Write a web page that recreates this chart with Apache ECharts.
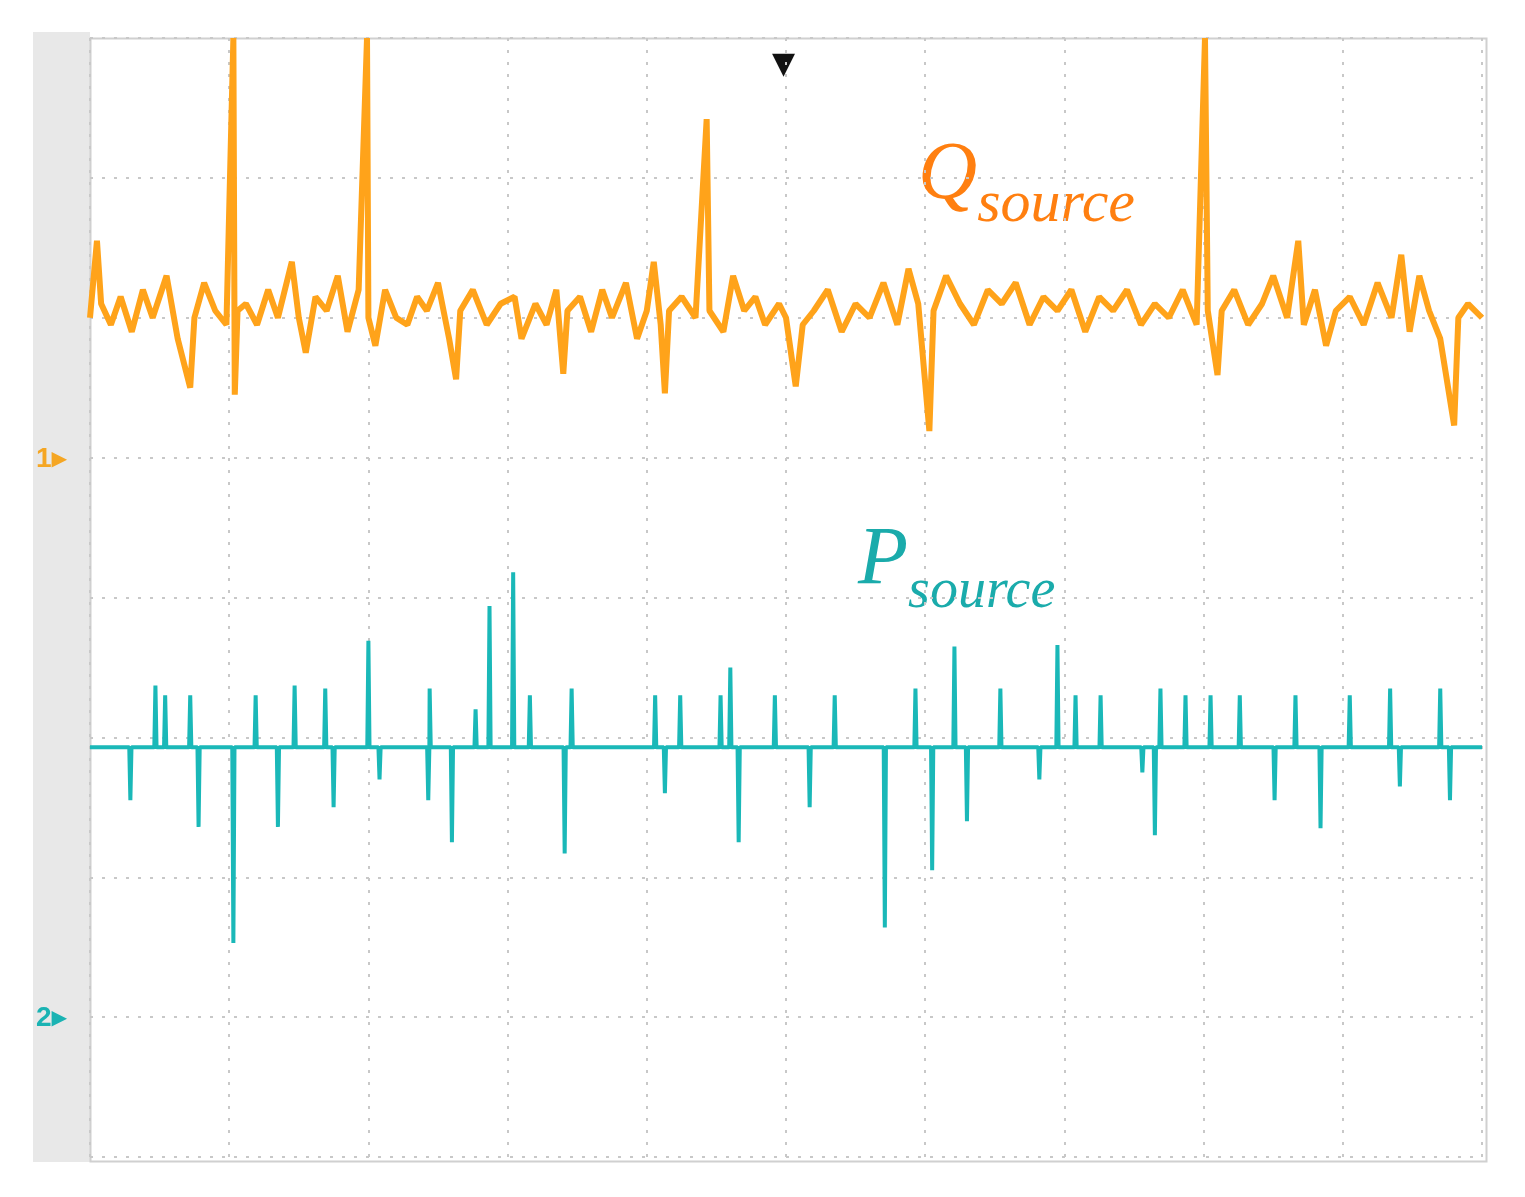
<!DOCTYPE html>
<html><head><meta charset="utf-8">
<script src="https://cdn.jsdelivr.net/npm/echarts@6/dist/echarts.min.js"></script>
<style>html,body{margin:0;padding:0;background:#fff}#c{width:1525px;height:1197px}</style>
</head><body><div id="c"></div>
<script>
// Q trace (x in divisions, y in divisions)
var qData = [[0,6.0],[0.05,6.55],[0.08,6.1],[0.15,5.95],[0.22,6.15],[0.3,5.9],[0.38,6.2],[0.45,6.0],[0.55,6.3],[0.63,5.85],[0.72,5.5],[0.75,6.0],[0.82,6.25],[0.9,6.05],[0.98,5.95],[1.03,8.0],[1.04,5.45],[1.06,6.05],[1.12,6.1],[1.2,5.95],[1.28,6.2],[1.35,6.0],[1.45,6.4],[1.5,6.0],[1.55,5.75],[1.62,6.15],[1.7,6.05],[1.78,6.3],[1.85,5.9],[1.93,6.2],[1.99,8.0],[2.0,6.0],[2.05,5.8],[2.12,6.2],[2.2,6.0],[2.28,5.95],[2.35,6.15],[2.42,6.05],[2.5,6.25],[2.58,5.85],[2.63,5.56],[2.66,6.05],[2.75,6.2],[2.85,5.95],[2.95,6.1],[3.05,6.15],[3.1,5.85],[3.2,6.1],[3.28,5.95],[3.35,6.2],[3.4,5.6],[3.43,6.05],[3.52,6.15],[3.6,5.9],[3.68,6.2],[3.75,6.0],[3.85,6.25],[3.93,5.85],[4.0,6.05],[4.05,6.4],[4.1,5.95],[4.13,5.46],[4.16,6.05],[4.25,6.15],[4.35,6.0],[4.43,7.42],[4.45,6.05],[4.55,5.9],[4.62,6.3],[4.7,6.05],[4.78,6.15],[4.85,5.95],[4.95,6.1],[5.0,6.0],[5.07,5.51],[5.12,5.95],[5.2,6.05],[5.3,6.2],[5.4,5.9],[5.5,6.1],[5.6,6.0],[5.7,6.25],[5.8,5.95],[5.88,6.35],[5.95,6.1],[6.03,5.19],[6.06,6.05],[6.15,6.3],[6.25,6.1],[6.35,5.95],[6.45,6.2],[6.55,6.1],[6.65,6.25],[6.75,5.95],[6.85,6.15],[6.95,6.05],[7.05,6.2],[7.15,5.9],[7.25,6.15],[7.35,6.05],[7.45,6.2],[7.55,5.95],[7.65,6.1],[7.75,6.0],[7.85,6.2],[7.95,5.95],[8.01,8.0],[8.03,6.05],[8.1,5.59],[8.13,6.05],[8.22,6.2],[8.32,5.95],[8.42,6.1],[8.5,6.3],[8.6,6.0],[8.68,6.55],[8.72,5.95],[8.8,6.2],[8.88,5.8],[8.95,6.05],[9.05,6.15],[9.15,5.95],[9.25,6.25],[9.35,6.0],[9.42,6.45],[9.48,5.9],[9.55,6.3],[9.62,6.05],[9.7,5.85],[9.8,5.23],[9.83,6.0],[9.9,6.1],[10,6.0]];

// P trace: flat baseline with spikes
var pBase = 2.93;
var pSpikeX = [0.29,0.47,0.54,0.72,0.78,1.03,1.19,1.35,1.47,1.69,1.75,2.0,2.08,2.43,2.44,2.6,2.77,2.87,3.04,3.16,3.41,3.46,4.06,4.13,4.24,4.53,4.6,4.66,4.92,5.17,5.35,5.71,5.93,6.05,6.21,6.3,6.54,6.82,6.95,7.08,7.26,7.56,7.65,7.69,7.87,8.05,8.26,8.51,8.66,8.84,9.05,9.34,9.41,9.7,9.77];
var pSpikeY = [2.55,3.37,3.3,3.3,2.36,1.53,3.3,2.36,3.37,3.35,2.5,3.69,2.7,2.55,3.35,2.25,3.2,3.94,4.18,3.3,2.17,3.35,3.3,2.6,3.3,3.3,3.5,2.25,3.3,2.5,3.3,1.64,3.35,2.05,3.65,2.4,3.35,2.7,3.66,3.3,3.3,2.75,2.3,3.35,3.3,3.3,3.3,2.55,3.3,2.35,3.3,3.35,2.65,3.35,2.55];

var pData = [[0, pBase]];
pSpikeX.forEach(function (x, i) {
	pData.push([x - 0.008, pBase], [x, pSpikeY[i]], [x + 0.008, pBase]);
});
pData.push([10, pBase]);

var chart = echarts.init(document.getElementById('c'));
var gridLine = {show: true, lineStyle: {color: '#c8c8c8', type: [3, 9], width: 2}};
chart.setOption({
	animation: false,
	backgroundColor: '#fff',
	grid: {left: 90, top: 38, width: 1392, height: 1119},
	xAxis: {type: 'value', min: 0, max: 10, interval: 1, splitLine: gridLine,
		axisLine: {show: false}, axisTick: {show: false}, axisLabel: {show: false}},
	yAxis: {type: 'value', min: 0, max: 8, interval: 1, splitLine: gridLine,
		axisLine: {show: false}, axisTick: {show: false}, axisLabel: {show: false}},
	graphic: [
		{type: 'rect', left: 33, top: 32, shape: {width: 57, height: 1130}, style: {fill: '#e8e8e8'}, z: -1},
		{type: 'rect', left: 88, top: 36, shape: {width: 1396, height: 1123}, style: {fill: 'none', stroke: '#d0d0d0', lineWidth: 2}},
		{type: 'text', left: 36, top: 445, style: {text: '1▸', fill: '#f5a623', font: 'bold 28px Liberation Sans'}},
		{type: 'text', left: 36, top: 1004, style: {text: '2▸', fill: '#1ab3b3', font: 'bold 28px Liberation Sans'}},
		{type: 'text', left: 772, top: 50, style: {text: '▼', fill: '#111', font: '30px DejaVu Sans'}},
		{type: 'text', left: 918, top: 135, style: {
			text: '{a|Q}{b|source}', rich: {
				a: {fill: '#ff7f10', fontFamily: 'Liberation Serif', fontStyle: 'italic', fontSize: 82, verticalAlign: 'bottom'},
				b: {fill: '#ff7f10', fontFamily: 'Liberation Serif', fontStyle: 'italic', fontSize: 60, verticalAlign: 'bottom', padding: [0, 0, -18, 0]}
			}}},
		{type: 'text', left: 858, top: 520, style: {
			text: '{a|P}{b|source}', rich: {
				a: {fill: '#1aabab', fontFamily: 'Liberation Serif', fontStyle: 'italic', fontSize: 82, verticalAlign: 'bottom'},
				b: {fill: '#1aabab', fontFamily: 'Liberation Serif', fontStyle: 'italic', fontSize: 56, verticalAlign: 'bottom', padding: [0, 0, -18, 0]}
			}}}
	],
	series: [
		{type: 'line', data: qData, showSymbol: false, lineStyle: {color: '#ffa31a', width: 6}},
		{type: 'line', data: pData, showSymbol: false, lineStyle: {color: '#1ab8b8', width: 4}}
	]
});
window.onresize = chart.resize;
</script>
</body></html>
